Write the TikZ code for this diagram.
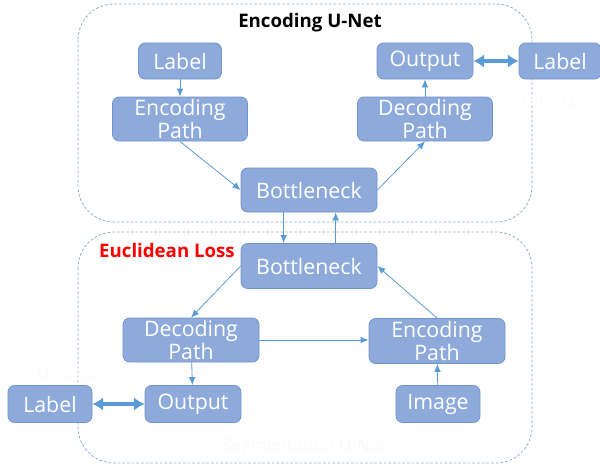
\documentclass[tikz,border=0pt]{standalone}
\usepackage{fontspec}
\setmainfont{Open Sans}
\usetikzlibrary{arrows.meta}
\definecolor{boxfill}{HTML}{8EAADB}
\definecolor{boxedge}{HTML}{6F93CC}
\definecolor{linkc}{HTML}{5B9BD5}
\definecolor{framec}{HTML}{8FAAC8}
\tikzset{
  blk/.style={draw=boxedge, fill=boxfill, rounded corners=5, line width=0.6pt,
    text=white, align=center, inner sep=0pt, font=\fontsize{16}{17}\selectfont},
  sz/.style 2 args={minimum width=#1*0.75pt, minimum height=#2*0.75pt},
  frame/.style={draw=framec, dashed, dash pattern=on 2pt off 1.5pt, line width=0.6pt, rounded corners=27},
  link/.style={draw=linkc, line width=0.6pt, -{Latex[length=6pt,width=5pt]}},
  thick link/.style={draw=linkc, line width=2.6pt, {Latex[length=8pt,width=10pt]}-{Latex[length=8pt,width=10pt]}},
  heading/.style={font=\fontsize{14}{16}\selectfont\bfseries},
  ghost/.style={text=black!2, font=\fontsize{13}{15}\selectfont}
}
\begin{document}
\begin{tikzpicture}[x=0.75pt,y=-0.75pt]
\useasboundingbox (0,0) rectangle (600,469);
% dashed frames of the two networks
\draw[frame] (78,4) rectangle (532,222);
\draw[frame] (78,232) rectangle (532,463);
\node[heading] (t1) at (310,23) {Encoding U-Net};
\node[heading, text=red] (t2) at (167,250) {Euclidean Loss};
\node[ghost] (t3) at (304,447) {Segmentation U-Net};
\node[ghost, text=red!2] (t4) at (75,373) {Dice Loss};
\node[ghost, text=red!2] (t5) at (560,100) {Dice Loss};
% upper network
\node[blk, sz={83}{36}] (lab1) at (180,61) {Label};
\node[blk, sz={135}{44}] (enc1) at (180,119) {Encoding\\Path};
\node[blk, sz={136}{44}] (bot1) at (309,190) {Bottleneck};
\node[blk, sz={135}{44}] (dec1) at (425,119) {Decoding\\Path};
\node[blk, sz={96}{36}] (out1) at (425,61) {Output};
\node[blk, sz={82}{36}] (lab2) at (560,61) {Label};
% lower network
\node[blk, sz={136}{45}] (bot2) at (309,266) {Bottleneck};
\node[blk, sz={136}{44}] (dec2) at (191,340) {Decoding\\Path};
\node[blk, sz={136}{45}] (enc2) at (437,341) {Encoding\\Path};
\node[blk, sz={84}{37}] (img) at (438,404) {Image};
\node[blk, sz={96}{37}] (out2) at (193,404) {Output};
\node[blk, sz={84}{37}] (lab3) at (50,404) {Label};
% connectors
\draw[link] (lab1) -- (enc1);
\draw[link] (enc1.south) -- (bot1.west);
\draw[link] (bot1.east) -- (dec1.south);
\draw[link] (dec1) -- (out1);
\draw[thick link] (out1) -- (lab2);
\draw[link] ([xshift=-19pt]bot1.south) -- ([xshift=-19pt]bot2.north);
\draw[link] ([xshift=20pt]bot2.north) -- ([xshift=20pt]bot1.south);
\draw[link] (bot2.west) -- (dec2.north);
\draw[link] (dec2.east) -- (enc2.west |- dec2.east);
\draw[link] (enc2.north) -- (bot2.east);
\draw[link] (img) -- (enc2);
\draw[link] (dec2) -- (out2);
\draw[thick link] (lab3) -- (out2);
\end{tikzpicture}
\end{document}
